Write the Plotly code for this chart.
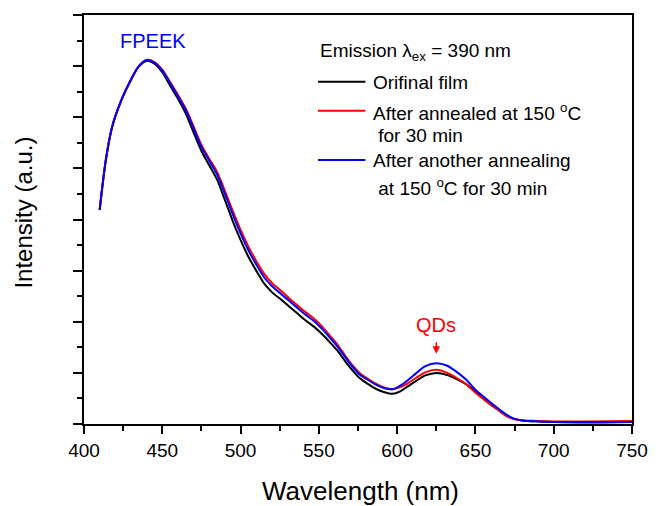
import plotly.graph_objects as go

# ---- data ----
wavelength = [410, 414, 418, 424, 430, 435, 440, 445, 450, 455, 460, 465, 470, 475, 480,
              485, 490, 495, 500, 505, 510, 515, 520, 526, 531, 536, 541, 547, 552, 557,
              562, 567, 572, 576, 581, 587, 592, 597, 602, 607, 612, 618, 625, 632, 638,
              644, 650, 655, 660, 665, 670, 675, 680, 690, 700, 720, 750]

original = [4.19, 5.17, 5.81, 6.34, 6.73, 6.99, 7.10, 7.05, 6.88, 6.62, 6.36, 6.07, 5.70, 5.34, 5.06,
            4.78, 4.38, 3.97, 3.60, 3.27, 3.00, 2.75, 2.58, 2.43, 2.30, 2.17, 2.04, 1.90, 1.76, 1.60,
            1.43, 1.22, 1.03, 0.90, 0.79, 0.68, 0.62, 0.59, 0.64, 0.74, 0.84, 0.95, 1.00, 0.96, 0.88,
            0.78, 0.64, 0.52, 0.40, 0.28, 0.17, 0.10, 0.07, 0.05, 0.04, 0.03, 0.04]

annealed = [4.19, 5.18, 5.82, 6.35, 6.74, 7.00, 7.12, 7.08, 6.93, 6.69, 6.44, 6.17, 5.82, 5.46, 5.19,
            4.93, 4.56, 4.17, 3.80, 3.47, 3.19, 2.94, 2.76, 2.60, 2.46, 2.33, 2.20, 2.06, 1.91, 1.73,
            1.55, 1.33, 1.13, 1.00, 0.89, 0.78, 0.71, 0.68, 0.72, 0.80, 0.90, 1.01, 1.06, 1.00, 0.90,
            0.78, 0.61, 0.49, 0.37, 0.26, 0.15, 0.09, 0.07, 0.06, 0.05, 0.05, 0.06]

another = [4.19, 5.18, 5.82, 6.35, 6.74, 7.00, 7.12, 7.07, 6.91, 6.67, 6.41, 6.14, 5.78, 5.42, 5.15,
           4.88, 4.50, 4.10, 3.73, 3.40, 3.12, 2.87, 2.70, 2.54, 2.41, 2.28, 2.15, 2.01, 1.86, 1.69,
           1.51, 1.30, 1.10, 0.97, 0.87, 0.76, 0.70, 0.68, 0.75, 0.86, 0.99, 1.13, 1.19, 1.14, 1.02,
           0.87, 0.67, 0.54, 0.41, 0.29, 0.18, 0.10, 0.07, 0.05, 0.04, 0.04, 0.04]

series_names = ["Orifinal film",
                "After annealed at 150 °C for 30 min",
                "After another annealing at 150 °C for 30 min"]
series_colors = ["#000000", "#ff0000", "#0000ff"]
series_values = [original, annealed, another]

x_ticks = [400, 450, 500, 550, 600, 650, 700, 750]

FONT = "Liberation Sans, Arial, sans-serif"

fig = go.Figure()
for name, color, vals in zip(series_names, series_colors, series_values):
    fig.add_trace(go.Scatter(x=wavelength, y=vals, mode="lines", name=name,
                             line=dict(color=color, width=2, shape="spline", smoothing=0.8),
                             showlegend=False))

# plot-area geometry in pixels (for text placement)
L, R, T, B = 84, 639, 15, 424.3
W, H = R - L, B - T


def px(xp):
    return (xp - L) / W


def py(yp):
    return (B - yp) / H


annotations = [
    dict(text="Wavelength (nm)", x=px(364), y=py(491), xref="paper", yref="paper",
         showarrow=False, font=dict(size=26, family=FONT, color="black"),
         xanchor="center", yanchor="middle"),
    dict(text="Intensity (a.u.)", x=px(23), y=py(213), xref="paper", yref="paper",
         showarrow=False, textangle=-90, font=dict(size=24, family=FONT, color="black"),
         xanchor="center", yanchor="middle"),
    dict(text="FPEEK", x=px(154), y=py(41), xref="paper", yref="paper",
         showarrow=False, font=dict(size=20, family=FONT, color="#0000ff"),
         xanchor="center", yanchor="middle"),
    dict(text="QDs", x=px(441), y=py(325), xref="paper", yref="paper",
         showarrow=False, font=dict(size=20, family=FONT, color="#ff0000"),
         xanchor="center", yanchor="middle"),
    dict(text="", x=625, y=(B - 354) / H * 8, xref="x", yref="y", showarrow=True,
         ax=0, ay=-13, arrowhead=2, arrowsize=1, arrowwidth=1.5, arrowcolor="#ff0000"),
    dict(text="Emission λ<sub>ex</sub> = 390 nm", x=px(321), y=py(52), xref="paper", yref="paper",
         showarrow=False, font=dict(size=19, family=FONT, color="black"),
         xanchor="left", yanchor="middle"),
]

# manual legend
legend_rows = [
    (81.7, ["Orifinal film"], [82.7]),
    (110.7, ["After annealed at 150 <sup>o</sup>C", " for 30 min"], [112, 136]),
    (160, ["After another annealing", " at 150 <sup>o</sup>C for 30 min"], [160.7, 187]),
]
shapes = []
for (ly, texts, tys), color in zip(legend_rows, series_colors):
    shapes.append(dict(type="line", xref="paper", yref="paper", x0=px(321), x1=px(369),
                       y0=py(ly), y1=py(ly), line=dict(color=color, width=2)))
    for t, ty in zip(texts, tys):
        annotations.append(dict(text=t, x=px(375), y=py(ty), xref="paper", yref="paper",
                                showarrow=False, font=dict(size=19, family=FONT, color="black"),
                                xanchor="left", yanchor="middle"))

fig.update_layout(
    width=660, height=506,
    margin=dict(l=L, r=660 - R, t=T, b=506 - B),
    paper_bgcolor="white", plot_bgcolor="white",
    font=dict(family=FONT, color="black"),
    annotations=annotations, shapes=shapes,
    xaxis=dict(range=[400, 750], tickvals=x_ticks, ticks="outside", ticklen=8, tickwidth=1.5,
               tickcolor="black", showline=True, linecolor="black", linewidth=2, mirror=True,
               showgrid=False, zeroline=False, tickfont=dict(size=19, family=FONT),
               ticklabelstandoff=0,
               minor=dict(dtick=25, ticks="outside", ticklen=5, tickwidth=1.5, tickcolor="black")),
    yaxis=dict(range=[0, 8], dtick=1, ticks="outside", ticklen=9, tickwidth=1.5, tickcolor="black",
               showticklabels=False, showline=True, linecolor="black", linewidth=2, mirror=True,
               showgrid=False, zeroline=False,
               minor=dict(dtick=0.5, ticks="outside", ticklen=5, tickwidth=1.5, tickcolor="black")),
)

fig.write_html("out.html")
